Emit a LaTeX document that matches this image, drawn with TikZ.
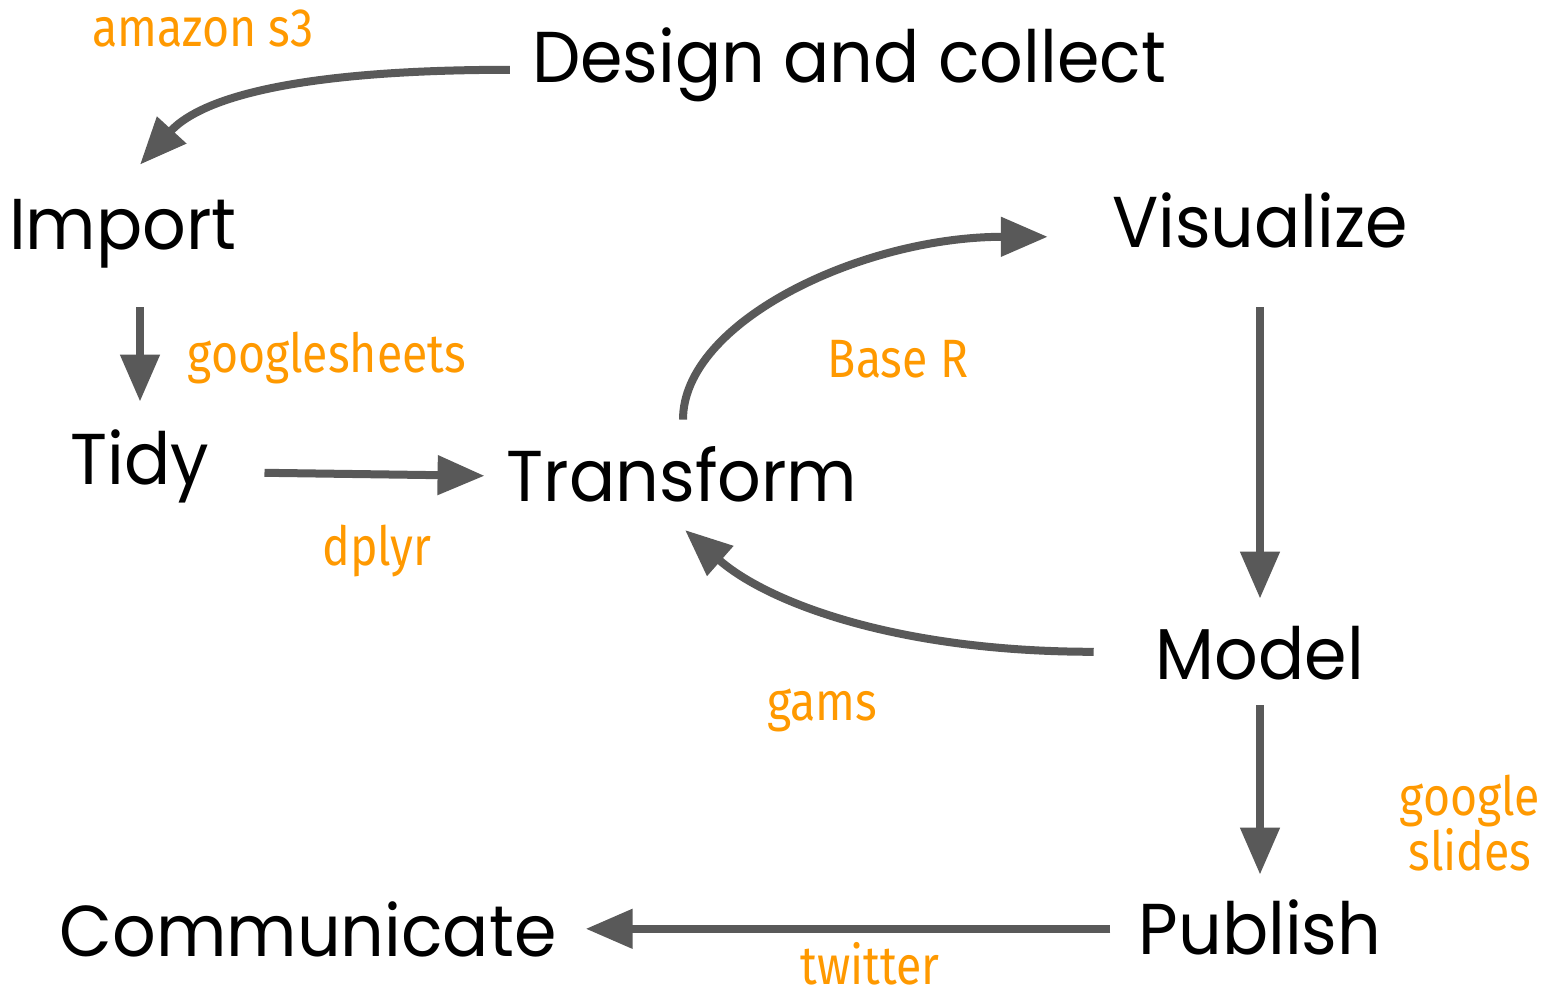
\documentclass[tikz,border=0pt]{standalone}
\usepackage{fontspec}
\usepackage{tikz}
\usetikzlibrary{arrows.meta, positioning, calc}
\setmainfont[FakeStretch=0.95]{Poppins}
\newfontfamily\toolfont[FakeStretch=0.86]{Fira Sans}
\definecolor{arrowgrey}{HTML}{595959}
\definecolor{tooltan}{HTML}{FF9900}

\tikzset{
  stage/.style={inner sep=0pt, text height=50pt, text depth=0pt, anchor=south,
    font=\fontsize{72}{80}\selectfont},
  tool/.style={inner sep=0pt, anchor=base, text=tooltan,
    font=\toolfont\fontsize{54}{55}\selectfont},
  flow/.style={draw=arrowgrey, line width=8pt,
    -{Triangle[length=47pt, width=38pt]}}
}

\begin{document}
\begin{tikzpicture}[x=1pt, y=-1pt]
\useasboundingbox (0,0) rectangle (1547,1000);

% Stages of the workflow
\node[stage] (design) at (849,83) {Design and collect};
\node[stage] (import) at (123,250) {Import};
\node[stage] (tidy) at (140,485) {Tidy};
\node[stage] (transform) at (682,502) {Transform};
\node[stage] (visualize) at (1260,248) {Visualize};
\node[stage] (model) at (1260,680) {Model};
\node[stage] (publish) at (1260,955) {Publish};
\node[stage] (communicate) at (308,957) {Communicate};

% Tools used along the way
\node[tool] (s3) at (203,47) {amazon s3};
\node[tool] (sheets) at (327,372) {googlesheets};
\node[tool] (dplyr) at (377,565) {dplyr};
\node[tool] (baser) at (898,377) {Base R};
\node[tool] (gams) at (822,720) {gams};
\node[tool, align=center] (slides) at (1470,870) {google\\slides};
\node[tool] (twitter) at (870,984) {twitter};

% Arrows between stages
\draw[flow] ($(design.west)+(-22,12)$) .. controls ($(design.west)+(-260,12)$) and ($(import.north)+(72,-95)$) .. ($(import.north)+(17,-35)$);
\draw[flow] ($(import.south -| tidy.north)+(0,57)$) -- ($(tidy.north)+(0,-33)$);
\draw[flow] ($(tidy.east)+(55,13)$) -- ($(transform.west)+(-22,-1)$);
\draw[flow] ($(transform.north)+(1,-32)$) .. controls ($(transform.north)+(1,-130)$) and ($(visualize.west)+(-250,14)$) .. ($(visualize.west)+(-64,14)$);
\draw[flow] ($(visualize.south)+(0,59)$) -- ($(visualize.south |- model.north)+(0,-31)$);
\draw[flow] ($(model.west)+(-62,-3)$) .. controls ($(model.west)+(-260,-3)$) and ($(transform.south)+(85,100)$) .. ($(transform.south)+(3,28)$);
\draw[flow] ($(model.south)+(0,25)$) -- ($(publish.north)+(0,-30)$);
\draw[flow] ($(publish.west)+(-28,-1)$) -- ($(communicate.east)+(29,-3)$);
\end{tikzpicture}
\end{document}
